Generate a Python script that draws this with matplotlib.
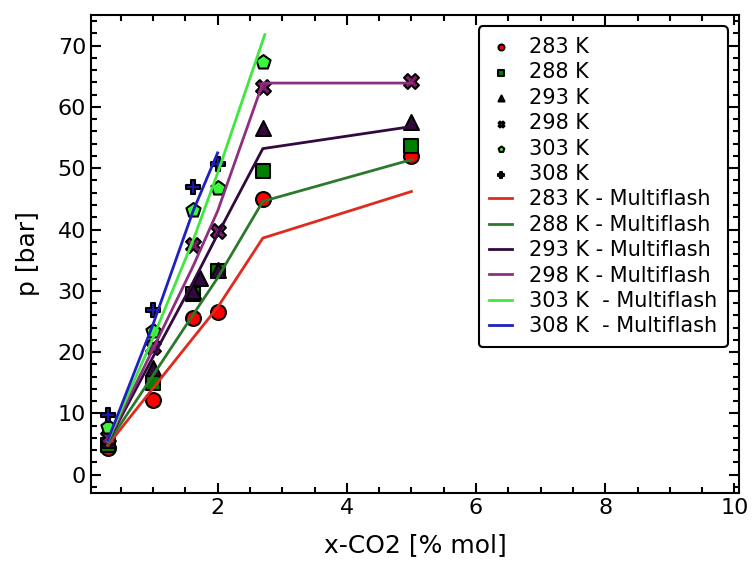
import matplotlib
matplotlib.use('Agg')
from matplotlib import pyplot as plt

# experimental points
x283 = [0.3, 1.0, 1.62, 2.0, 2.7, 5.0]
y283 = [4.3, 12.2, 25.6, 26.5, 44.9, 52.0]
x288 = [0.3, 1.0, 1.62, 2.0, 2.7, 5.0]
y288 = [4.8, 15.0, 29.5, 33.3, 49.5, 53.6]
x293 = [0.3, 1.0, 1.62, 1.72, 2.0, 2.7, 5.0]
y293 = [5.6, 17.4, 30.0, 32.1, 33.4, 56.6, 57.6]
x298 = [0.3, 1.0, 1.62, 2.0, 2.7, 5.0]
y298 = [6.2, 20.9, 37.5, 39.7, 63.3, 64.2]
x303 = [0.3, 1.0, 1.62, 2.0, 2.7]
y303 = [7.8, 23.4, 43.2, 46.8, 67.4]
x308 = [0.3, 1.0, 1.62, 2.0]
y308 = [9.8, 26.9, 47.0, 50.7]

# multiflash curves
xm = [0.3, 1.0, 1.62, 2.0, 2.7, 5.0]
m283 = [4.8, 14.1, 22.3, 27.3, 38.6, 46.2]
m288 = [5.1, 16.2, 26.1, 32.1, 44.6, 51.4]
m293 = [5.3, 19.2, 31.4, 39.2, 53.2, 56.8]
m298 = [5.4, 20.5, 34.0, 43.0, 63.9, 63.9]
xm303 = [0.3, 1.0, 1.62, 2.0, 2.73]
m303 = [5.5, 22.3, 38.2, 49.2, 71.8]
xm308 = [0.3, 1.0, 1.62, 2.0]
m308 = [5.6, 24.5, 43.0, 52.5]

fig = plt.figure(figsize=(7.55, 5.65), dpi=100)
ax = fig.add_axes([0.1205, 0.1274, 0.8583, 0.846])

ek = dict(edgecolors='black', linewidths=1.5, s=115)
ax.scatter(x283, y283, marker='o', color='red', label='283 K', **ek)
ax.scatter(x288, y288, marker='s', color='green', label='288 K', **ek)
ax.scatter(x293, y293, marker='^', color='#32093f', label='293 K', **ek)
ax.scatter(x298, y298, marker='X', color='#7d1e6a', label='298 K', **ek)
ax.scatter(x303, y303, marker='p', color='#3df53d', label='303 K', **ek)
ax.scatter(x308, y308, marker='P', color='#1a1ab0', label='308 K', **ek)

ax.plot(xm, m283, color='#e02a1f', lw=2, label='283 K - Multiflash')
ax.plot(xm, m288, color='#2b7a2b', lw=2, label='288 K - Multiflash')
ax.plot(xm, m293, color='#32093f', lw=2, label='293 K - Multiflash')
ax.plot(xm, m298, color='#8e3080', lw=2, label='298 K - Multiflash')
ax.plot(xm303, m303, color='#3ee83e', lw=2, label='303 K  - Multiflash')
ax.plot(xm308, m308, color='#2020c0', lw=2, label='308 K  - Multiflash')

ax.set_xlim(0.04, 10.07)
ax.set_ylim(-3, 75)
ax.set_xticks([2, 4, 6, 8, 10])
ax.set_yticks(range(0, 71, 10))
ax.set_xticks([i * 0.5 for i in range(1, 21)], minor=True)
ax.set_yticks(range(-2, 75, 2), minor=True)
ax.tick_params(which='both', direction='in', top=True, right=True, width=1.5, labelsize=16)
ax.tick_params(which='major', length=7)
ax.tick_params(which='minor', length=4)
for s in ax.spines.values():
    s.set_linewidth(1.5)

ax.set_xlabel('x-CO2 [% mol]', fontsize=18, labelpad=11)
ax.set_ylabel('p [bar]', fontsize=18, labelpad=13)

leg = ax.legend(loc='upper right', fontsize=15, markerscale=0.4, frameon=True,
                fancybox=True, framealpha=1, edgecolor='black',
                labelspacing=0.26, handlelength=1.1, borderpad=0.5,
                borderaxespad=0.55)
leg.get_frame().set_linewidth(1.5)

fig.savefig('out.png', dpi=100)
